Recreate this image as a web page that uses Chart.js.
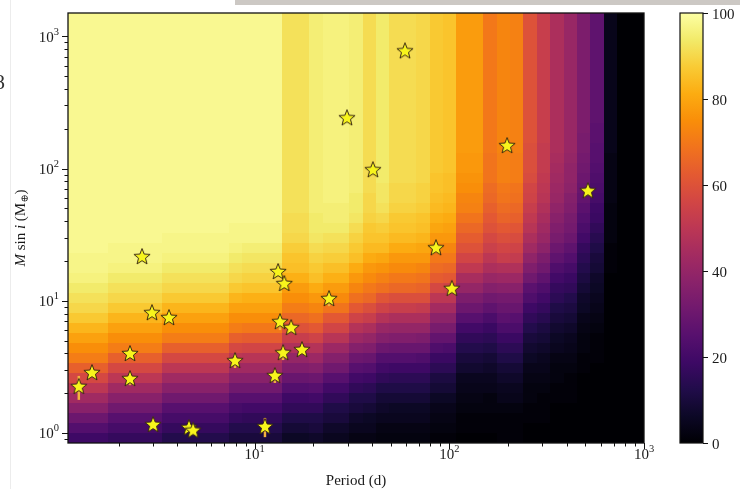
<!DOCTYPE html>
<html>
<head>
<meta charset="utf-8">
<title>Completeness map</title>
<script src="https://cdn.jsdelivr.net/npm/chart.js@4.4.1/dist/chart.umd.min.js"></script>
<style>
  body { margin: 0; background: #fff; }
  canvas { display: block; }
</style>
</head>
<body>
<canvas id="chart" width="740" height="489"></canvas>
<script>
// grid ranges: period in days, M sin i in Earth masses
const periodRange = [1.1, 1000];
const massRange = [0.84, 1500];

// completeness (%) per period bin, from the lowest mass bin up to the highest
const completeness = [
  [19,24,30,37,43,50,57,64,71,75, 79,83,87,90,92,94,96,97,97, 98,98,98,98,98,98,98,98, 98,98,98,98,98,98,98,98, 98,98,98,98,98,98,98,98],
  [19,24,30,37,43,50,57,64,71,75, 79,83,87,90,92,94,96,97,97, 98,98,98,98,98,98,98,98, 98,98,98,98,98,98,98,98, 98,98,98,98,98,98,98,98],
  [19,24,30,37,43,50,57,64,71,75, 79,83,87,90,92,94,96,97,97, 98,98,98,98,98,98,98,98, 98,98,98,98,98,98,98,98, 98,98,98,98,98,98,98,98],
  [17,21,25,31,37,43,50,57,64,71, 75,79,83,87,90,92,94,96,97,97, 98,98,98,98,98,98,98,98, 98,98,98,98,98,98,98,98, 98,98,98,98,98,98,98],
  [17,21,25,31,37,43,50,57,64,71, 75,79,83,87,90,92,94,96,97,97, 98,98,98,98,98,98,98,98, 98,98,98,98,98,98,98,98, 98,98,98,98,98,98,98],
  [17,21,25,31,37,43,50,57,64,71, 75,79,83,87,90,92,94,96,97,97, 98,98,98,98,98,98,98,98, 98,98,98,98,98,98,98,98, 98,98,98,98,98,98,98],
  [17,21,25,31,37,43,50,57,64,71, 75,79,83,87,90,92,94,96,97,97, 98,98,98,98,98,98,98,98, 98,98,98,98,98,98,98,98, 98,98,98,98,98,98,98],
  [13,17,21,25,31,37,43,50,57,64, 71,75,79,83,87,90,92,94,96,97, 97, 98,98,98,98,98,98,98,98, 98,98,98,98,98,98,98,98, 98,98,98,98,98,98],
  [13,17,21,25,31,37,43,50,57,64, 71,75,79,83,87,90,92,94,96,97, 97, 98,98,98,98,98,98,98,98, 98,98,98,98,98,98,98,98, 98,98,98,98,98,98],
  [13,17,21,25,31,37,43,50,57,64, 71,75,79,83,87,90,92,94,96,97, 97, 98,98,98,98,98,98,98,98, 98,98,98,98,98,98,98,98, 98,98,98,98,98,98],
  [13,17,21,25,31,37,43,50,57,64, 71,75,79,83,87,90,92,94,96,97, 97, 98,98,98,98,98,98,98,98, 98,98,98,98,98,98,98,98, 98,98,98,98,98,98],
  [13,17,21,25,31,37,43,50,57,64, 71,75,79,83,87,90,92,94,96,97, 97, 98,98,98,98,98,98,98,98, 98,98,98,98,98,98,98,98, 98,98,98,98,98,98],
  [10,13,17,21,25,31,37,43,50,57, 64,71,75,79,83,87,90,92,94,96, 97,97, 98,98,98,98,98,98,98,98, 98,98,98,98,98,98,98,98, 98,98,98,98,98],
  [10,13,16,20,25,31,37,43,49,56, 63,70,75,79,82,86,89,91,93,95, 97,97, 98,98,98,98,98,98,98,98, 98,98,98,98,98,98,98,98, 98,98,98,98,98],
  [10,13,16,20,25,31,37,43,49,56, 63,70,75,79,82,86,89,91,93,95, 97,97, 98,98,98,98,98,98,98,98, 98,98,98,98,98,98,98,98, 98,98,98,98,98],
  [10,13,16,20,25,31,37,43,49,56, 63,70,75,79,82,86,89,91,93,95, 97,97, 98,98,98,98,98,98,98,98, 98,98,98,98,98,98,98,98, 98,98,98,98,98],
  [6,9,12,16,19,24,29,35,40,47, 53,60,66,71,75,78,82,85,86,88, 90,91,91, 92,92,92,92,92,92,92,92, 92,92,92,92,92,92,92,92, 92,92,92,92],
  [6,9,12,16,19,24,29,35,40,47, 53,60,66,71,75,78,82,85,86,88, 90,91,91, 92,92,92,92,92,92,92,92, 92,92,92,92,92,92,92,92, 92,92,92,92],
  [7,10,12,16,20,25,30,36,42,48, 55,62,68,73,77,81,85,87,89,91, 93,94,94, 95,95,95,95,95,95,95,95, 95,95,95,95,95,95,95,95, 95,95,95,95],
  [5,7,10,12,16,20,25,31,36,42, 49,56,62,69,74,78,82,85,88,90, 92,94,95,95, 96,96,96,96,96,96,96,96, 96,96,96,96,96,96,96,96, 96,96,96],
  [5,7,10,12,16,20,25,31,36,42, 49,56,62,69,74,78,82,85,88,90, 92,94,95,95, 96,96,96,96,96,96,96,96, 96,96,96,96,96,96,96,96, 96,96,96],
  [3,5,7,10,12,16,20,25,30,36, 42,48,55,62,68,73,77,81,85,87, 89,91,93,94,94, 95,95,95,95,95,95,95,95, 95,95,95,95,95,95,95,95, 95,95],
  [3,5,6,9,12,15,19,24,29,35, 40,46,53,59,66,70,74,77,81,84, 86,87,89,90,90, 91,91,91,91,91,91,91,91, 91,91,91,91,91,91,91,91, 91,91],
  [2,3,5,7,9,12,16,20,24,30, 36,41,48,55,61,68,72,76,80,84, 86,88,90,92,93,93, 94,94,94,94,94,94,94,94, 94,94,94,94,94,94,94,94, 94],
  [2,3,5,6,9,12,15,19,24,29, 35,40,46,53,59,66,70,74,77,81, 84,86,87,89,90,90, 91,91,91,91,91,91,91,91, 91,91,91,91,91,91,91,91, 91],
  [2,3,5,6,9,12,15,19,24,29, 35,40,46,53,59,66,70,74,77,81, 84,86,87,89,90,90, 91,91,91,91,91,91,91,91, 91,91,91,91,91,91,91,91, 91],
  [2,3,5,6,9,12,15,19,23,29, 34,40,46,52,59,65,69,73,77,80, 83,85,86,88,89,89, 90,90,90,90,90,90,90,90, 90,90,90,90,90,90,90,90, 90],
  [1,2,3,4,6,9,11,15,18,23, 28,33,38,44,50,57,63,67,70,74, 77,80,82,84,85,86,86, 87,87,87,87,87,87,87,87, 87,87,87,87,87,87,87,87],
  [1,2,3,4,6,9,11,15,18,22, 28,33,38,44,50,56,62,66,70,73, 77,79,81,83,84,85,85, 86,86,86,86,86,86,86,86, 86,86,86,86,86,86,86,86],
  [0,1,1,2,3,4,5,8,10,13, 16,20,25,30,34,40,45,51,56,60, 63,66,69,72,73,75,76,77,77, 78,78,78,78,78,78,78, 78,78,78,78,78,78,78],
  [0,1,1,2,3,4,5,8,10,13, 16,20,25,30,34,40,45,51,56,60, 63,66,69,72,73,75,76,77,77, 78,78,78,78,78,78,78, 78,78,78,78,78,78,78],
  [0,1,1,2,2,4,5,7,9,12, 15,18,22,27,31,36,41,46,50,54, 57,60,62,64,66,67,69,69,69, 70,70,70,70,70,70,70, 70,70,70,70,70,70,70],
  [1,1,1,2,4,5,7,9,12,15, 18,22,26,29,32,37,42,47,53,56, 59,62,65,67,69,70,72,72,72, 73,73,73,73,73,73,73, 73,73,73,73,73,73,73],
  [1,1,1,2,4,5,7,9,12,15, 18,22,25,29,32,37,42,47,52,55, 58,61,64,66,68,69,71,71,71, 72,72,72,72,72,72,72, 72,72,72,72,72,72,72],
  [0,0,1,1,2,2,3,4,6,8, 10,13,16,19,23,26,31,35,39,43, 46,49,51,53,55,56,58,59,59,59, 60,60,60,60,60,60,60, 60,60,60,60,60,60],
  [0,0,1,1,1,2,3,4,5,7, 9,11,14,17,20,23,27,31,34,38, 41,43,45,47,49,50,51,52,52,52, 53,53,53,53,53,53,53, 53,53,53,53,53,53],
  [0,0,0,0,1,1,2,2,3,5, 6,8,10,12,15,17,20,23,27,30, 33,35,37,39,41,42,43,44,45,46, 46, 46,46,46,46,46,46, 46,46,46,46,46,46],
  [0,0,0,0,1,1,1,2,3,4, 5,7,9,11,13,16,18,21,24,27, 30,32,33,35,36,38,39,39,40,41, 41, 41,41,41,41,41,41, 41,41,41,41,41,41],
  [0,0,0,0,0,0,0,1,1,2, 2,3,4,6,7,9,11,13,15,17, 20,22,24,26,28,29,30,31,32,33, 33,34,34, 34,34,34,34,34, 34,34,34,34,34],
  [0,0,0,0,0,0,0,0,1,1, 1,2,3,4,5,6,7,9,10,12, 14,16,18,19,21,22,23,24,25,25, 26,26,27,27, 27,27,27,27,27, 27,27,27,27],
  [0,0,0,0,0,0,0,0,0,0, 0,0,0,0,0,0,0,1,1,1, 2,2,2,2,3,3,3,3,3,4, 4,4,4,4,4,4,4, 4,4,4,4,4,4],
  [0,0,0,0,0,0,0,0,0,0, 0,0,0,0,0,0,0,0,0,0, 0,0,0,0,0,0,0,0,0,0, 0,0,0,0,0,0,0,0,0,0, 0,0,0],
  [0,0,0,0,0,0,0,0,0,0, 0,0,0,0,0,0,0,0,0,0, 0,0,0,0,0,0,0,0,0,0, 0,0,0,0,0,0,0,0,0,0, 0,0,0]
];

// detected planets
const planetPeriod = [59.2, 29.8, 198, 40.5, 515, 2.64, 85.4, 13.2, 14.2, 24.1, 103, 2.97, 3.63, 13.5,
                      15.4, 2.29, 7.93, 14.0, 17.5, 1.46, 2.29, 1.25, 12.7, 3.01, 4.60, 4.83, 11.3];
const planetMass = [770, 240, 148, 97.2, 67.4, 21.4, 25.0, 16.5, 13.4, 10.3, 12.3, 8.07, 7.40, 6.90,
                    6.22, 3.96, 3.50, 4.02, 4.24, 2.84, 2.56, 2.23, 2.70, 1.15, 1.09, 1.04, 1.11];
const massLow = [null, null, null, null, null, null, null, null, null, 9.1, null, null, null, 6.0,
                 null, null, 3.1, 3.56, null, null, 2.3, 1.78, 2.39, null, null, null, 0.93];
const massHigh = [null, null, null, null, null, null, null, null, null, 11.6, null, null, null, 7.8,
                  null, null, 3.9, 4.5, null, null, 2.8, 2.70, 3.0, null, null, null, 1.30];

const periodTicks = [10, 100, 1000];
const massTicks = [1, 10, 100, 1000];
const colorTicks = [0, 20, 40, 60, 80, 100];

completeness.forEach((col, i) => {
    if (col.length !== completeness[0].length) throw new Error('period bin ' + i + ' has ' + col.length + ' mass bins');
});

// inferno colormap
const inferno = ['#000004', '#0c0826', '#210c4a', '#3d0965', '#57106e', '#71196e', '#8a226a', '#a32b61', '#bc3754',
                 '#d24644', '#e45a31', '#f1731d', '#f98e09', '#fcac11', '#f9cb35', '#f2ea69', '#fcffa4'];
const infernoRgb = inferno.map(h => [1, 3, 5].map(k => parseInt(h.slice(k, k + 2), 16)));

function infernoColor(t) {
    t = Math.min(1, Math.max(0, t));
    const s = t * (infernoRgb.length - 1);
    const k = Math.min(Math.floor(s), infernoRgb.length - 2);
    const f = s - k;
    const a = infernoRgb[k], b = infernoRgb[k + 1];
    return 'rgb(' + a.map((c, n) => Math.round(c + (b[n] - c) * f)).join(',') + ')';
}

const SERIF = "'Liberation Serif', 'DejaVu Serif', serif";

function makeStar(r) {
    const size = 22;
    const c = document.createElement('canvas');
    c.width = c.height = size;
    const g = c.getContext('2d');
    g.beginPath();
    for (let k = 0; k < 10; k++) {
        const rad = k % 2 === 0 ? r : r * 0.43;
        const a = -Math.PI / 2 + k * Math.PI / 5;
        g.lineTo(size / 2 + rad * Math.cos(a), size / 2 + rad * Math.sin(a));
    }
    g.closePath();
    g.fillStyle = '#f8f51c';
    g.fill();
    g.lineWidth = 1;
    g.strokeStyle = '#3a2912';
    g.stroke();
    return c;
}

// "10" with a raised exponent
function drawPower(ctx, value, x, y, align) {
    const base = '10', exp = String(Math.round(Math.log10(value)));
    ctx.font = '15px ' + SERIF;
    const wb = ctx.measureText(base).width;
    ctx.font = '10.5px ' + SERIF;
    const we = ctx.measureText(exp).width;
    const left = align === 'right' ? x - wb - we : x - (wb + we) / 2;
    ctx.textAlign = 'left';
    ctx.textBaseline = 'alphabetic';
    ctx.font = '15px ' + SERIF;
    ctx.fillText(base, left, y);
    ctx.font = '10.5px ' + SERIF;
    ctx.fillText(exp, left + wb, y - 7);
}

const heatmap = {
    id: 'heatmap',
    beforeDatasetsDraw(chart) {
        const {ctx, chartArea: a, scales: {x, y}} = chart;
        const nP = completeness.length, nM = completeness[0].length;
        const lp = periodRange.map(v => Math.log10(v)), lm = massRange.map(v => Math.log10(v));
        ctx.save();
        ctx.beginPath();
        ctx.rect(a.left, a.top, a.right - a.left, a.bottom - a.top);
        ctx.clip();
        for (let i = 0; i < nP; i++) {
            const x0 = Math.round(x.getPixelForValue(10 ** (lp[0] + (lp[1] - lp[0]) * i / nP)));
            const x1 = Math.round(x.getPixelForValue(10 ** (lp[0] + (lp[1] - lp[0]) * (i + 1) / nP)));
            for (let j = 0; j < nM; j++) {
                const y0 = Math.round(y.getPixelForValue(10 ** (lm[0] + (lm[1] - lm[0]) * j / nM)));
                const y1 = Math.round(y.getPixelForValue(10 ** (lm[0] + (lm[1] - lm[0]) * (j + 1) / nM)));
                ctx.fillStyle = infernoColor(completeness[i][j] / 100);
                ctx.fillRect(x0, y1, x1 - x0, y0 - y1);
            }
        }
        // mass error bars, drawn under the stars
        ctx.strokeStyle = '#f2b33d';
        ctx.lineWidth = 2.5;
        planetPeriod.forEach((p, k) => {
            if (massLow[k] == null) return;
            const px = x.getPixelForValue(p);
            ctx.beginPath();
            ctx.moveTo(px, y.getPixelForValue(massLow[k]));
            ctx.lineTo(px, y.getPixelForValue(massHigh[k]));
            ctx.stroke();
        });
        ctx.restore();
    }
};

const axes = {
    id: 'axes',
    beforeDraw(chart) {
        // bits of the page around the figure
        const ctx = chart.ctx;
        ctx.save();
        ctx.fillStyle = '#ccc8c4';
        ctx.fillRect(235, 0, 505, 5);
        ctx.fillStyle = '#ececec';
        ctx.fillRect(10, 0, 1, 489);
        ctx.fillStyle = '#333';
        ctx.font = '22px ' + SERIF;
        ctx.fillText('8', -6, 89);
        ctx.restore();
    },
    afterDraw(chart) {
        const {ctx, chartArea: a, scales: {x, y, cbar}} = chart;
        ctx.save();
        ctx.strokeStyle = '#111';
        ctx.fillStyle = '#1a1a1a';

        // log ticks, major and minor
        ctx.lineWidth = 1;
        ctx.beginPath();
        for (let e = -1; e <= 3; e++) {
            for (let m = 1; m <= 9; m++) {
                const v = m * 10 ** e;
                const len = m === 1 ? 6 : 3.5;
                if (v >= periodRange[0] && v <= periodRange[1] * 1.001) {
                    const px = Math.round(x.getPixelForValue(v)) + 0.5;
                    ctx.moveTo(px, a.bottom);
                    ctx.lineTo(px, a.bottom + len);
                }
                if (v >= massRange[0] && v <= massRange[1]) {
                    const py = Math.round(y.getPixelForValue(v)) + 0.5;
                    ctx.moveTo(a.left - len, py);
                    ctx.lineTo(a.left, py);
                }
            }
        }
        ctx.stroke();

        ctx.lineWidth = 1.3;
        ctx.strokeRect(a.left, a.top, a.right - a.left, a.bottom - a.top);

        periodTicks.forEach(v => drawPower(ctx, v, x.getPixelForValue(v), a.bottom + 15.5, 'center'));
        massTicks.forEach(v => drawPower(ctx, v, a.left - 9, y.getPixelForValue(v) + 5.5, 'right'));

        // axis titles
        ctx.font = '15px ' + SERIF;
        ctx.textAlign = 'center';
        ctx.fillText('Period (d)', (a.left + a.right) / 2, 485);

        ctx.save();
        ctx.translate(25, (a.top + a.bottom) / 2);
        ctx.rotate(-Math.PI / 2);
        const runs = [['M', 'italic 15px '], [' sin ', '15px '], ['i', 'italic 15px '], [' (M', '15px '], ['\u2295', '10px ', 3], [')', '15px ']];
        let total = 0;
        runs.forEach(r => { ctx.font = r[1] + SERIF; total += ctx.measureText(r[0]).width; });
        let cx = -total / 2;
        ctx.textAlign = 'left';
        runs.forEach(r => {
            ctx.font = r[1] + SERIF;
            ctx.fillText(r[0], cx, r[2] || 0);
            cx += ctx.measureText(r[0]).width;
        });
        ctx.restore();

        // colorbar
        const cbLeft = a.right + 36, cbW = 23;
        const top = cbar.getPixelForValue(100), bot = cbar.getPixelForValue(0);
        const grad = ctx.createLinearGradient(0, bot, 0, top);
        inferno.forEach((c, k) => grad.addColorStop(k / (inferno.length - 1), c));
        ctx.fillStyle = grad;
        ctx.fillRect(cbLeft, top, cbW, bot - top);
        ctx.lineWidth = 1.2;
        ctx.strokeRect(cbLeft, top, cbW, bot - top);
        ctx.fillStyle = '#1a1a1a';
        ctx.font = '15px ' + SERIF;
        ctx.textAlign = 'left';
        ctx.lineWidth = 1;
        colorTicks.forEach(v => {
            const py = Math.round(cbar.getPixelForValue(v)) + 0.5;
            ctx.beginPath();
            ctx.moveTo(cbLeft + cbW, py);
            ctx.lineTo(cbLeft + cbW + 5, py);
            ctx.stroke();
            ctx.fillText(String(v), cbLeft + cbW + 9, py + 5.5);
        });
        ctx.restore();
    }
};

const chart = new Chart(document.getElementById('chart'), {
    type: 'scatter',
    data: {
        datasets: [{
            data: planetPeriod.map((p, k) => ({x: p, y: planetMass[k]})),
            pointStyle: makeStar(8.5),
            pointRadius: 9,
            borderWidth: 0
        }]
    },
    options: {
        responsive: false,
        devicePixelRatio: 1,
        animation: false,
        events: [],
        layout: {padding: {left: 68, right: 96, top: 13, bottom: 46}},
        plugins: {legend: {display: false}, tooltip: {enabled: false}},
        scales: {
            x: {type: 'logarithmic', min: periodRange[0], max: periodRange[1], bounds: 'data', display: false},
            y: {type: 'logarithmic', min: massRange[0], max: massRange[1], bounds: 'data', display: false},
            cbar: {type: 'linear', axis: 'y', position: 'right', min: 0, max: 100, display: false}
        }
    },
    plugins: [heatmap, axes]
});
</script>
</body>
</html>
